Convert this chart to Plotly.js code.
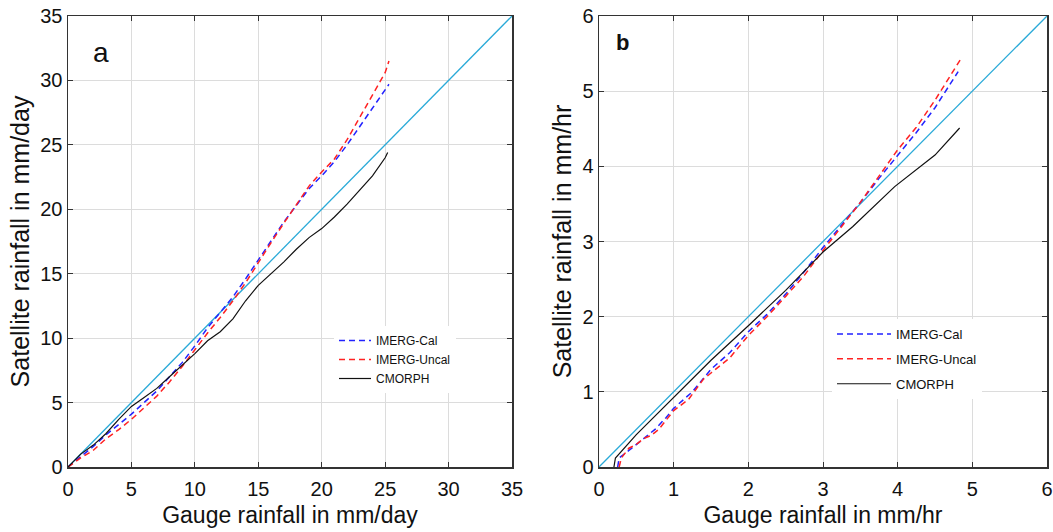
<!DOCTYPE html>
<html>
<head>
<meta charset="utf-8">
<script src="https://cdn.plot.ly/plotly-3.0.1.min.js"></script>
<style>html,body{margin:0;padding:0;background:#fff;}#chart{width:1053px;height:532px;}</style>
</head>
<body>
<div id="chart"></div>
<script>
// Panel a (daily, mm/day)
const dayCalX   = [0, 1, 2, 3, 4, 5, 6, 7, 8, 9, 10, 11, 12, 13, 14, 15, 16, 17, 18, 19, 20, 21, 22, 23, 24, 25, 25.3];
const dayCalY   = [0, 0.8, 1.6, 2.5, 3.3, 4.1, 5.0, 5.9, 7.0, 8.1, 9.4, 10.8, 12.0, 13.2, 14.6, 16.1, 17.6, 19.0, 20.3, 21.6, 22.6, 23.7, 25.0, 26.4, 27.9, 29.3, 29.7];
const dayUncalX = [0, 1, 2, 3, 4, 5, 6, 7, 8, 9, 10, 11, 12, 13, 14, 15, 16, 17, 18, 19, 20, 21, 22, 23, 24, 25, 25.3];
const dayUncalY = [0, 0.7, 1.3, 2.2, 2.9, 3.7, 4.6, 5.5, 6.6, 7.8, 9.1, 10.4, 11.6, 12.9, 14.3, 15.9, 17.4, 18.9, 20.4, 21.8, 22.9, 23.9, 25.4, 27.1, 28.9, 30.6, 31.5];
const dayCmorX  = [0, 1, 2, 3, 4, 5, 6, 7, 8, 9, 10, 11, 12, 13, 14, 15, 16, 17, 18, 19, 20, 21, 22, 23, 24, 25, 25.2];
const dayCmorY  = [0, 1.0, 1.7, 2.6, 3.7, 4.7, 5.4, 6.1, 7.0, 7.9, 8.8, 9.8, 10.5, 11.5, 12.9, 14.1, 15.0, 15.9, 16.9, 17.8, 18.5, 19.4, 20.4, 21.5, 22.6, 24.0, 24.4];
// Panel b (hourly, mm/hr)
const hrCalX   = [0.25, 0.27, 0.4, 0.5, 0.6, 0.75, 0.9, 1.0, 1.25, 1.5, 1.75, 2.0, 2.25, 2.5, 2.75, 3.0, 3.25, 3.5, 3.75, 4.0, 4.25, 4.5, 4.81];
const hrCalY   = [0, 0.12, 0.22, 0.3, 0.38, 0.5, 0.66, 0.78, 1.0, 1.3, 1.52, 1.8, 2.03, 2.3, 2.6, 2.92, 3.22, 3.52, 3.84, 4.15, 4.45, 4.78, 5.26];
const hrUncalX = [0.27, 0.3, 0.4, 0.5, 0.6, 0.7, 0.8, 0.9, 1.0, 1.2, 1.4, 1.5, 1.75, 2.0, 2.25, 2.5, 2.75, 3.0, 3.25, 3.5, 3.75, 4.0, 4.25, 4.5, 4.84];
const hrUncalY = [0, 0.12, 0.25, 0.3, 0.38, 0.42, 0.5, 0.62, 0.75, 0.9, 1.17, 1.25, 1.45, 1.75, 2.0, 2.27, 2.55, 2.88, 3.2, 3.52, 3.87, 4.22, 4.52, 4.88, 5.42];
const hrCmorX  = [0.2, 0.22, 0.5, 1.0, 1.5, 2.0, 2.5, 3.0, 3.4, 3.96, 4.5, 4.83];
const hrCmorY  = [0, 0.12, 0.43, 0.92, 1.42, 1.88, 2.35, 2.86, 3.2, 3.73, 4.15, 4.51];
// 1:1 reference lines
const oneDay = [0, 35];
const oneHr  = [0, 6];
const seriesNames = ['IMERG-Cal', 'IMERG-Uncal', 'CMORPH'];
const dayTicks = [0, 5, 10, 15, 20, 25, 30, 35];
const hrTicks  = [0, 1, 2, 3, 4, 5, 6];

const blue = '#2222ff', red = '#ff2222', black = '#111111', cyan = '#2aaad8';

const traces = [
  {x: oneDay, y: oneDay, mode: 'lines', line: {color: cyan, width: 1.3}, showlegend: false, xaxis: 'x', yaxis: 'y'},
  {x: dayCalX, y: dayCalY, name: seriesNames[0], mode: 'lines', line: {color: blue, width: 1.5, dash: '6px,4px'}, xaxis: 'x', yaxis: 'y', legend: 'legend'},
  {x: dayUncalX, y: dayUncalY, name: seriesNames[1], mode: 'lines', line: {color: red, width: 1.5, dash: '6px,4px'}, xaxis: 'x', yaxis: 'y', legend: 'legend'},
  {x: dayCmorX, y: dayCmorY, name: seriesNames[2], mode: 'lines', line: {color: black, width: 1.2}, xaxis: 'x', yaxis: 'y', legend: 'legend'},
  {x: oneHr, y: oneHr, mode: 'lines', line: {color: cyan, width: 1.3}, showlegend: false, xaxis: 'x2', yaxis: 'y2'},
  {x: hrCalX, y: hrCalY, name: seriesNames[0], mode: 'lines', line: {color: blue, width: 1.5, dash: '6px,4px'}, xaxis: 'x2', yaxis: 'y2', legend: 'legend2', legendgroup: 'b1'},
  {x: hrUncalX, y: hrUncalY, name: seriesNames[1], mode: 'lines', line: {color: red, width: 1.5, dash: '6px,4px'}, xaxis: 'x2', yaxis: 'y2', legend: 'legend2', legendgroup: 'b2'},
  {x: hrCmorX, y: hrCmorY, name: seriesNames[2], mode: 'lines', line: {color: black, width: 1.2}, xaxis: 'x2', yaxis: 'y2', legend: 'legend2', legendgroup: 'b3'}
];

const FF = 'Liberation Sans, Arial';
const axisBase = {
  showgrid: true, gridcolor: '#dcdcdc', gridwidth: 1,
  showline: true, linecolor: '#333', linewidth: 1.5, mirror: 'ticks',
  ticks: 'inside', ticklen: 5, tickcolor: '#333', tickwidth: 1,
  zeroline: false, tickfont: {family: FF, size: 20, color: '#111'},
  fixedrange: true
};
const W = 1053, H = 532;
const xt = (t) => ({text: t, font: {size: 23, family: FF, color: '#111'}, standoff: 8});
const yt = (t) => ({text: t, font: {size: 25, family: FF, color: '#111'}, standoff: 3});
const layout = {
  width: W, height: H,
  margin: {l: 0, r: 0, t: 0, b: 0},
  paper_bgcolor: '#fff', plot_bgcolor: '#fff',
  font: {family: FF, color: '#111'},
  xaxis: Object.assign({}, axisBase, {domain: [68/W, 512/W], range: [0, 35], tickvals: dayTicks, anchor: 'y', ticklabelstandoff: 3,
    title: xt('Gauge rainfall in mm/day')}),
  yaxis: Object.assign({}, axisBase, {domain: [1-467/H, 1-16/H], range: [0, 35], tickvals: dayTicks, anchor: 'x',
    title: yt('Satellite rainfall in mm/day')}),
  xaxis2: Object.assign({}, axisBase, {domain: [599/W, 1047/W], range: [0, 6], tickvals: hrTicks, anchor: 'y2', ticklabelstandoff: 3,
    title: xt('Gauge rainfall in mm/hr')}),
  yaxis2: Object.assign({}, axisBase, {domain: [1-467/H, 1-16/H], range: [0, 6], tickvals: hrTicks, anchor: 'x2',
    title: yt('Satellite rainfall in mm/hr')}),
  legend: {x: 334/W, y: 1-326/H, xanchor: 'left', yanchor: 'top', bgcolor: '#fff', borderwidth: 0,
    font: {size: 12, family: FF, color: '#111'}, tracegroupgap: 0, itemwidth: 32},
  legend2: {x: 832/W, y: 1-319/H, xanchor: 'left', yanchor: 'top', bgcolor: '#fff', borderwidth: 0,
    font: {size: 13, family: FF, color: '#111'}, tracegroupgap: 5, itemwidth: 54},
  annotations: [
    {xref: 'paper', yref: 'paper', x: 101/W, y: 1-52/H, text: 'a', showarrow: false, font: {size: 28, family: FF, color: '#111'}, xanchor: 'center', yanchor: 'middle'},
    {xref: 'paper', yref: 'paper', x: 623/W, y: 1-43/H, text: '<b>b</b>', showarrow: false, font: {size: 22, family: FF, color: '#111'}, xanchor: 'center', yanchor: 'middle'}
  ]
};
Plotly.newPlot('chart', traces, layout, {displayModeBar: false, staticPlot: true});
</script>
</body>
</html>
